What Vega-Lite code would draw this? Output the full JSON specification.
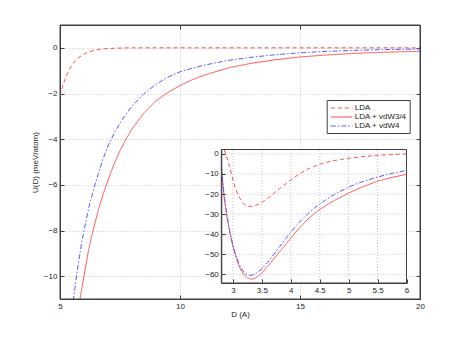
{
  "$schema": "https://vega.github.io/schema/vega-lite/v6.json",
  "width": 360,
  "height": 274,
  "autosize": {"type": "none"},
  "padding": {"left": 60, "top": 25, "right": 43, "bottom": 38},
  "background": "white",
  "config": {
    "font": "Liberation Sans",
    "view": {"stroke": "#404040", "strokeWidth": 1},
    "axis": {
      "labelFontSize": 8, "titleFontSize": 8, "titleFontWeight": "normal",
      "labelColor": "#222222", "titleColor": "#222222",
      "domainColor": "#404040", "tickColor": "#404040",
      "gridColor": "#c4c4c4", "gridDash": [1, 2], "gridWidth": 1,
      "tickSize": -4, "labelPadding": 7, "labelFlush": false, "labelOverlap": false
    },
    "legend": {
      "fillColor": "white", "strokeColor": "#404040", "padding": 3,
      "labelFontSize": 8, "labelColor": "#222222", "labelFont": "Liberation Sans",
      "symbolStrokeWidth": 1.2
    }
  },
  "datasets": {
    "main": [
      {"D": 5.0, "U": -2.1, "series": "LDA"}, {"D": 5.1, "U": -1.72, "series": "LDA"}, {"D": 5.2, "U": -1.4, "series": "LDA"},
      {"D": 5.3, "U": -1.14, "series": "LDA"}, {"D": 5.4, "U": -0.93, "series": "LDA"}, {"D": 5.5, "U": -0.76, "series": "LDA"},
      {"D": 5.6, "U": -0.62, "series": "LDA"}, {"D": 5.7, "U": -0.5, "series": "LDA"}, {"D": 5.8, "U": -0.41, "series": "LDA"},
      {"D": 6.0, "U": -0.27, "series": "LDA"}, {"D": 6.25, "U": -0.16, "series": "LDA"}, {"D": 6.5, "U": -0.09, "series": "LDA"},
      {"D": 6.75, "U": -0.05, "series": "LDA"}, {"D": 7.0, "U": -0.03, "series": "LDA"}, {"D": 7.5, "U": -0.01, "series": "LDA"},
      {"D": 8, "U": 0, "series": "LDA"}, {"D": 10, "U": 0, "series": "LDA"}, {"D": 12, "U": 0, "series": "LDA"},
      {"D": 14, "U": 0, "series": "LDA"}, {"D": 16, "U": 0, "series": "LDA"}, {"D": 18, "U": 0, "series": "LDA"}, {"D": 20, "U": 0, "series": "LDA"},

      {"D": 5.7, "U": -12.2, "series": "LDA + vdW3/4"}, {"D": 5.8, "U": -11.2, "series": "LDA + vdW3/4"}, {"D": 5.9, "U": -10.6, "series": "LDA + vdW3/4"},
      {"D": 6.0, "U": -10.0, "series": "LDA + vdW3/4"}, {"D": 6.2, "U": -8.8, "series": "LDA + vdW3/4"}, {"D": 6.4, "U": -7.9, "series": "LDA + vdW3/4"},
      {"D": 6.6, "U": -7.1, "series": "LDA + vdW3/4"}, {"D": 6.8, "U": -6.4, "series": "LDA + vdW3/4"}, {"D": 7.0, "U": -5.8, "series": "LDA + vdW3/4"},
      {"D": 7.25, "U": -5.1, "series": "LDA + vdW3/4"}, {"D": 7.5, "U": -4.5, "series": "LDA + vdW3/4"}, {"D": 7.75, "U": -4.0, "series": "LDA + vdW3/4"},
      {"D": 8.0, "U": -3.55, "series": "LDA + vdW3/4"}, {"D": 8.5, "U": -2.85, "series": "LDA + vdW3/4"}, {"D": 9.0, "U": -2.32, "series": "LDA + vdW3/4"},
      {"D": 9.5, "U": -1.95, "series": "LDA + vdW3/4"}, {"D": 10, "U": -1.65, "series": "LDA + vdW3/4"}, {"D": 10.5, "U": -1.4, "series": "LDA + vdW3/4"},
      {"D": 11, "U": -1.2, "series": "LDA + vdW3/4"}, {"D": 12, "U": -0.88, "series": "LDA + vdW3/4"}, {"D": 13, "U": -0.67, "series": "LDA + vdW3/4"},
      {"D": 14, "U": -0.52, "series": "LDA + vdW3/4"}, {"D": 15, "U": -0.4, "series": "LDA + vdW3/4"}, {"D": 16, "U": -0.32, "series": "LDA + vdW3/4"},
      {"D": 17, "U": -0.26, "series": "LDA + vdW3/4"}, {"D": 18, "U": -0.21, "series": "LDA + vdW3/4"}, {"D": 19, "U": -0.18, "series": "LDA + vdW3/4"},
      {"D": 20, "U": -0.15, "series": "LDA + vdW3/4"},

      {"D": 5.45, "U": -12.0, "series": "LDA + vdW4"}, {"D": 5.5, "U": -11.5, "series": "LDA + vdW4"}, {"D": 5.6, "U": -10.7, "series": "LDA + vdW4"},
      {"D": 5.7, "U": -9.9, "series": "LDA + vdW4"}, {"D": 5.8, "U": -9.2, "series": "LDA + vdW4"}, {"D": 5.9, "U": -8.55, "series": "LDA + vdW4"},
      {"D": 6.0, "U": -8.0, "series": "LDA + vdW4"}, {"D": 6.2, "U": -7.0, "series": "LDA + vdW4"}, {"D": 6.4, "U": -6.2, "series": "LDA + vdW4"},
      {"D": 6.6, "U": -5.5, "series": "LDA + vdW4"}, {"D": 6.8, "U": -4.85, "series": "LDA + vdW4"}, {"D": 7.0, "U": -4.3, "series": "LDA + vdW4"},
      {"D": 7.25, "U": -3.75, "series": "LDA + vdW4"}, {"D": 7.5, "U": -3.3, "series": "LDA + vdW4"}, {"D": 7.75, "U": -2.9, "series": "LDA + vdW4"},
      {"D": 8.0, "U": -2.55, "series": "LDA + vdW4"}, {"D": 8.5, "U": -2.0, "series": "LDA + vdW4"}, {"D": 9.0, "U": -1.6, "series": "LDA + vdW4"},
      {"D": 9.5, "U": -1.28, "series": "LDA + vdW4"}, {"D": 10, "U": -1.05, "series": "LDA + vdW4"}, {"D": 10.5, "U": -0.9, "series": "LDA + vdW4"},
      {"D": 11, "U": -0.76, "series": "LDA + vdW4"}, {"D": 12, "U": -0.55, "series": "LDA + vdW4"}, {"D": 13, "U": -0.41, "series": "LDA + vdW4"},
      {"D": 14, "U": -0.3, "series": "LDA + vdW4"}, {"D": 15, "U": -0.22, "series": "LDA + vdW4"}, {"D": 16, "U": -0.16, "series": "LDA + vdW4"},
      {"D": 17, "U": -0.12, "series": "LDA + vdW4"}, {"D": 18, "U": -0.09, "series": "LDA + vdW4"}, {"D": 19, "U": -0.07, "series": "LDA + vdW4"},
      {"D": 20, "U": -0.05, "series": "LDA + vdW4"}
    ],
    "inset": [
      {"D": 2.85, "U": 2.0, "series": "LDA"}, {"D": 2.9, "U": -2.0, "series": "LDA"}, {"D": 2.95, "U": -7.0, "series": "LDA"},
      {"D": 3.0, "U": -13.0, "series": "LDA"}, {"D": 3.05, "U": -17.5, "series": "LDA"}, {"D": 3.1, "U": -21.0, "series": "LDA"},
      {"D": 3.15, "U": -23.5, "series": "LDA"}, {"D": 3.2, "U": -25.2, "series": "LDA"}, {"D": 3.25, "U": -26.0, "series": "LDA"},
      {"D": 3.3, "U": -26.2, "series": "LDA"}, {"D": 3.35, "U": -26.0, "series": "LDA"}, {"D": 3.4, "U": -25.6, "series": "LDA"},
      {"D": 3.5, "U": -24.2, "series": "LDA"}, {"D": 3.6, "U": -22.2, "series": "LDA"}, {"D": 3.7, "U": -19.8, "series": "LDA"},
      {"D": 3.8, "U": -17.4, "series": "LDA"}, {"D": 3.9, "U": -15.2, "series": "LDA"}, {"D": 4.0, "U": -13.0, "series": "LDA"},
      {"D": 4.1, "U": -11.0, "series": "LDA"}, {"D": 4.2, "U": -9.1, "series": "LDA"}, {"D": 4.3, "U": -7.5, "series": "LDA"},
      {"D": 4.4, "U": -6.2, "series": "LDA"}, {"D": 4.5, "U": -5.2, "series": "LDA"}, {"D": 4.6, "U": -4.3, "series": "LDA"},
      {"D": 4.75, "U": -3.3, "series": "LDA"}, {"D": 5.0, "U": -2.2, "series": "LDA"}, {"D": 5.25, "U": -1.3, "series": "LDA"},
      {"D": 5.5, "U": -0.7, "series": "LDA"}, {"D": 5.75, "U": -0.3, "series": "LDA"}, {"D": 6.0, "U": 0.0, "series": "LDA"},

      {"D": 2.8, "U": -7.0, "series": "LDA + vdW3/4"}, {"D": 2.85, "U": -22.0, "series": "LDA + vdW3/4"}, {"D": 2.9, "U": -32.0, "series": "LDA + vdW3/4"},
      {"D": 2.95, "U": -39.5, "series": "LDA + vdW3/4"}, {"D": 3.0, "U": -46.0, "series": "LDA + vdW3/4"}, {"D": 3.05, "U": -51.0, "series": "LDA + vdW3/4"},
      {"D": 3.1, "U": -55.5, "series": "LDA + vdW3/4"}, {"D": 3.15, "U": -58.5, "series": "LDA + vdW3/4"}, {"D": 3.2, "U": -60.5, "series": "LDA + vdW3/4"},
      {"D": 3.25, "U": -61.7, "series": "LDA + vdW3/4"}, {"D": 3.3, "U": -62.3, "series": "LDA + vdW3/4"}, {"D": 3.35, "U": -62.3, "series": "LDA + vdW3/4"},
      {"D": 3.4, "U": -61.7, "series": "LDA + vdW3/4"}, {"D": 3.5, "U": -59.5, "series": "LDA + vdW3/4"}, {"D": 3.6, "U": -56.0, "series": "LDA + vdW3/4"},
      {"D": 3.7, "U": -52.5, "series": "LDA + vdW3/4"}, {"D": 3.8, "U": -49.0, "series": "LDA + vdW3/4"}, {"D": 3.9, "U": -45.5, "series": "LDA + vdW3/4"},
      {"D": 4.0, "U": -42.0, "series": "LDA + vdW3/4"}, {"D": 4.1, "U": -38.5, "series": "LDA + vdW3/4"}, {"D": 4.2, "U": -35.3, "series": "LDA + vdW3/4"},
      {"D": 4.3, "U": -32.4, "series": "LDA + vdW3/4"}, {"D": 4.4, "U": -29.9, "series": "LDA + vdW3/4"}, {"D": 4.5, "U": -27.7, "series": "LDA + vdW3/4"},
      {"D": 4.6, "U": -25.8, "series": "LDA + vdW3/4"}, {"D": 4.75, "U": -23.2, "series": "LDA + vdW3/4"}, {"D": 5.0, "U": -19.5, "series": "LDA + vdW3/4"},
      {"D": 5.25, "U": -16.3, "series": "LDA + vdW3/4"}, {"D": 5.5, "U": -13.6, "series": "LDA + vdW3/4"}, {"D": 5.75, "U": -11.7, "series": "LDA + vdW3/4"},
      {"D": 6.0, "U": -10.2, "series": "LDA + vdW3/4"},

      {"D": 2.8, "U": -6.0, "series": "LDA + vdW4"}, {"D": 2.85, "U": -21.0, "series": "LDA + vdW4"}, {"D": 2.9, "U": -31.0, "series": "LDA + vdW4"},
      {"D": 2.95, "U": -39.0, "series": "LDA + vdW4"}, {"D": 3.0, "U": -45.5, "series": "LDA + vdW4"}, {"D": 3.05, "U": -50.5, "series": "LDA + vdW4"},
      {"D": 3.1, "U": -54.5, "series": "LDA + vdW4"}, {"D": 3.15, "U": -57.3, "series": "LDA + vdW4"}, {"D": 3.2, "U": -59.2, "series": "LDA + vdW4"},
      {"D": 3.25, "U": -60.2, "series": "LDA + vdW4"}, {"D": 3.3, "U": -60.5, "series": "LDA + vdW4"}, {"D": 3.35, "U": -60.2, "series": "LDA + vdW4"},
      {"D": 3.4, "U": -59.5, "series": "LDA + vdW4"}, {"D": 3.5, "U": -57.3, "series": "LDA + vdW4"}, {"D": 3.6, "U": -54.0, "series": "LDA + vdW4"},
      {"D": 3.7, "U": -50.3, "series": "LDA + vdW4"}, {"D": 3.8, "U": -46.5, "series": "LDA + vdW4"}, {"D": 3.9, "U": -42.7, "series": "LDA + vdW4"},
      {"D": 4.0, "U": -39.0, "series": "LDA + vdW4"}, {"D": 4.1, "U": -35.6, "series": "LDA + vdW4"}, {"D": 4.2, "U": -32.5, "series": "LDA + vdW4"},
      {"D": 4.3, "U": -29.7, "series": "LDA + vdW4"}, {"D": 4.4, "U": -27.2, "series": "LDA + vdW4"}, {"D": 4.5, "U": -25.0, "series": "LDA + vdW4"},
      {"D": 4.6, "U": -23.0, "series": "LDA + vdW4"}, {"D": 4.75, "U": -20.2, "series": "LDA + vdW4"}, {"D": 5.0, "U": -16.5, "series": "LDA + vdW4"},
      {"D": 5.25, "U": -13.7, "series": "LDA + vdW4"}, {"D": 5.5, "U": -11.5, "series": "LDA + vdW4"}, {"D": 5.75, "U": -9.7, "series": "LDA + vdW4"},
      {"D": 6.0, "U": -8.2, "series": "LDA + vdW4"}
    ],
    "igridx": [{"g": 3}, {"g": 3.5}, {"g": 4}, {"g": 4.5}, {"g": 5}, {"g": 5.5}],
    "igridy": [{"g": -60}, {"g": -50}, {"g": -40}, {"g": -30}, {"g": -20}, {"g": -10}, {"g": 0}],
    "box": [{"x1": 2.8, "x2": 6, "y1": -64.3, "y2": 2.2}],
    "outline": [{"x1": 5, "x2": 20, "y1": -11, "y2": 1}]
  },
  "layer": [
    {
      "layer": [
        {
          "data": {"name": "main"},
          "mark": {"type": "line", "clip": true, "strokeWidth": 1},
          "encoding": {
            "x": {"field": "D", "type": "quantitative",
              "scale": {"domain": [5, 20], "nice": false, "zero": false},
              "axis": {"title": "D (A)", "orient": "bottom", "values": [5, 10, 15, 20], "grid": true, "titlePadding": 0}},
            "y": {"field": "U", "type": "quantitative",
              "scale": {"domain": [-11, 1], "nice": false, "zero": false},
              "axis": {"title": "U(D)  (meV/atom)", "orient": "left", "values": [-10, -8, -6, -4, -2, 0], "grid": true, "titlePadding": 4}},
            "color": {"field": "series", "type": "nominal",
              "scale": {"domain": ["LDA", "LDA + vdW3/4", "LDA + vdW4"], "range": ["#ff4d4d", "#ff4d4d", "#5959ff"]},
              "legend": {"title": null, "orient": "none", "legendX": 266.7, "legendY": 75, "symbolType": "M-2.7,0H2.7", "symbolSize": 64, "symbolOffset": 7, "rowPadding": 0, "labelOffset": 8}},
            "strokeDash": {"field": "series", "type": "nominal",
              "scale": {"domain": ["LDA", "LDA + vdW3/4", "LDA + vdW4"], "range": [[4, 3], [1, 0], [5, 2, 1.5, 2]]},
              "legend": {"title": null, "orient": "none", "legendX": 266.7, "legendY": 75, "symbolType": "M-2.7,0H2.7", "symbolSize": 64, "symbolOffset": 7, "rowPadding": 0, "labelOffset": 8}}
          }
        },
        {
          "data": {"name": "outline"},
          "mark": {"type": "rect", "fill": "#ffffff", "fillOpacity": 0, "stroke": "#404040", "strokeWidth": 1},
          "encoding": {
            "x": {"field": "x1", "type": "quantitative",
              "scale": {"domain": [5, 20], "nice": false, "zero": false},
              "axis": {"title": null, "orient": "top", "values": [5, 10, 15, 20], "labels": false, "grid": false, "domain": true}},
            "x2": {"field": "x2"},
            "y": {"field": "y1", "type": "quantitative",
              "scale": {"domain": [-11, 1], "nice": false, "zero": false},
              "axis": {"title": null, "orient": "right", "values": [-10, -8, -6, -4, -2, 0], "labels": false, "grid": false, "domain": true}},
            "y2": {"field": "y2"}
          }
        }
      ],
      "resolve": {"axis": {"x": "independent", "y": "independent"}}
    },
    {
      "encoding": {
        "x": {"type": "quantitative",
          "scale": {"domain": [2.8, 6], "range": [161.3, 346.5], "nice": false, "zero": false},
          "axis": {"title": null, "orient": "bottom", "offset": -16, "values": [3, 3.5, 4, 4.5, 5, 5.5, 6], "format": "~g", "grid": false, "zindex": 2}},
        "y": {"type": "quantitative",
          "scale": {"domain": [-64.3, 2.2], "range": [258, 124.5], "nice": false, "zero": false},
          "axis": {"title": null, "orient": "left", "offset": -161.3, "values": [-60, -50, -40, -30, -20, -10, 0], "grid": false, "zindex": 2}}
      },
      "layer": [
        {
          "data": {"name": "box"},
          "mark": {"type": "rect", "fill": "white", "stroke": "#404040", "strokeWidth": 1},
          "encoding": {
            "x": {"field": "x1", "type": "quantitative"},
            "x2": {"field": "x2"},
            "y": {"field": "y1", "type": "quantitative"},
            "y2": {"field": "y2"}
          }
        },
        {
          "data": {"name": "igridx"},
          "mark": {"type": "rule", "stroke": "#c4c4c4", "strokeDash": [1, 2], "strokeWidth": 1},
          "encoding": {
            "x": {"field": "g", "type": "quantitative"},
            "y": {"datum": -64.3, "type": "quantitative"},
            "y2": {"datum": 2.2}
          }
        },
        {
          "data": {"name": "igridy"},
          "mark": {"type": "rule", "stroke": "#c4c4c4", "strokeDash": [1, 2], "strokeWidth": 1},
          "encoding": {
            "y": {"field": "g", "type": "quantitative"},
            "x": {"datum": 2.8, "type": "quantitative"},
            "x2": {"datum": 6}
          }
        },
        {
          "data": {"name": "inset"},
          "mark": {"type": "line", "strokeWidth": 1},
          "encoding": {
            "x": {"field": "D", "type": "quantitative"},
            "y": {"field": "U", "type": "quantitative"},
            "color": {"field": "series", "type": "nominal"},
            "strokeDash": {"field": "series", "type": "nominal"}
          }
        }
      ]
    }
  ],
  "resolve": {"scale": {"x": "independent", "y": "independent"}}
}
